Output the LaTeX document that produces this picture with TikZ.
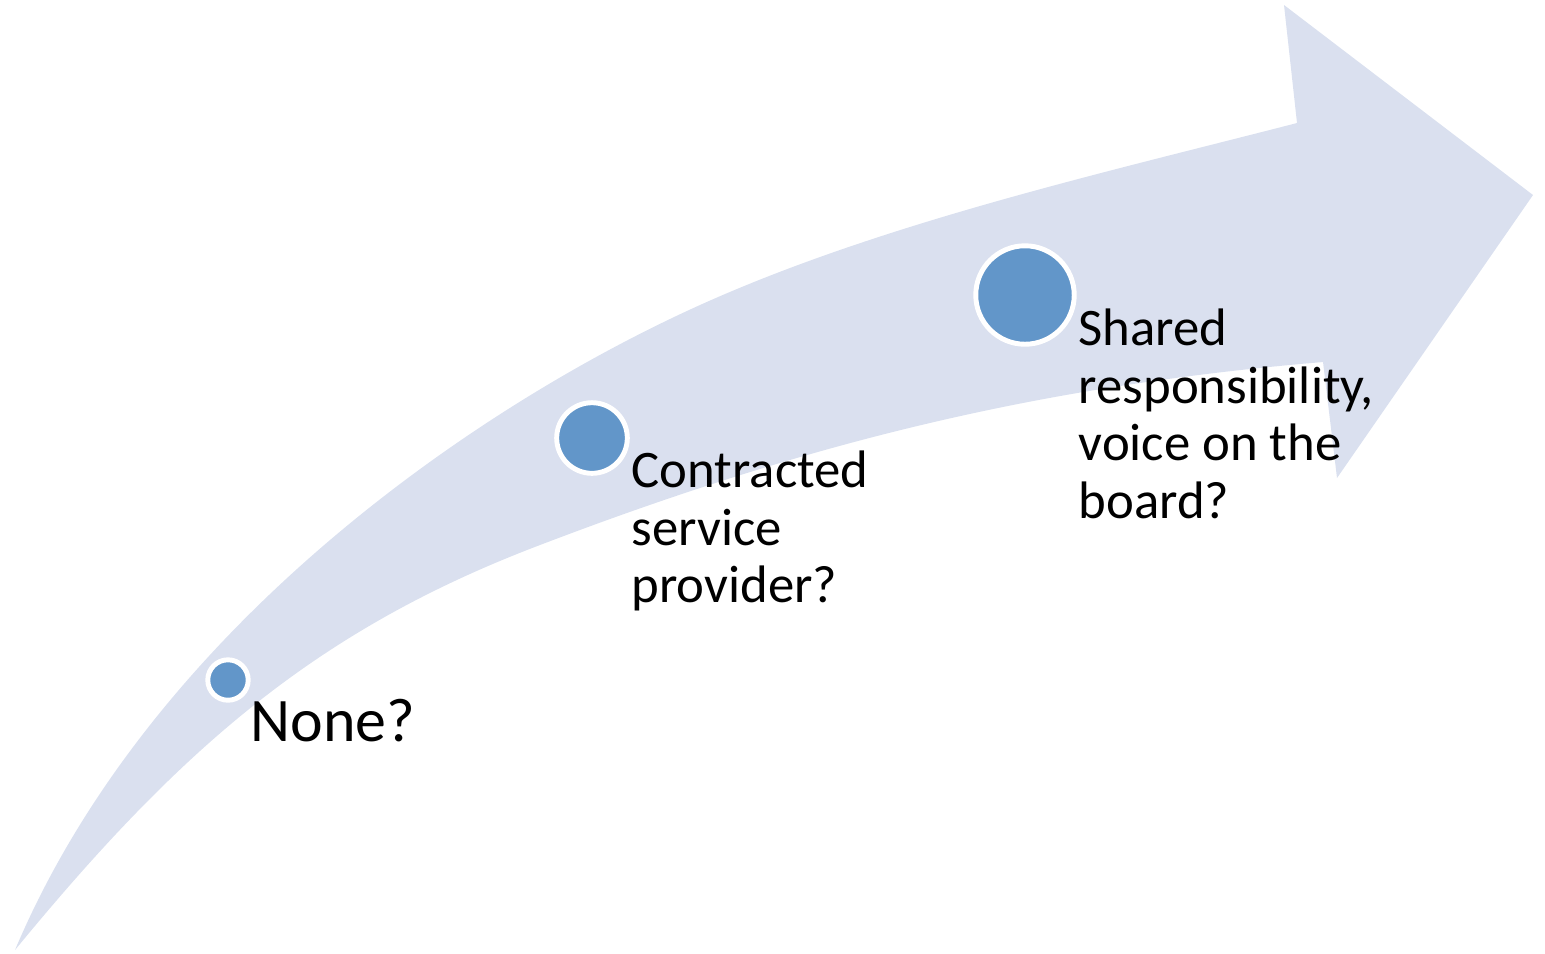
\documentclass[tikz,border=0pt]{standalone}
\usepackage{fontspec}
\setmainfont{Carlito}
\usepackage{tikz}
\usepackage{xcolor}
\definecolor{bandfill}{RGB}{218,224,239}
\definecolor{dotblue}{RGB}{98,150,201}

\begin{document}
\begin{tikzpicture}[x=0.01cm,y=-0.01cm]

\tikzstyle{dot}=[circle,fill=dotblue,draw=white,line width=1.4pt,inner sep=0pt]
\tikzstyle{lbl}=[anchor=north west,inner sep=0pt,align=left,font=\fontsize{15}{16.4}\selectfont]

\useasboundingbox (0,0) rectangle (1545,953);

\fill[bandfill] (15,950) .. controls (147,637) and (463,412) .. (700,305)
  .. controls (882,223) and (1103,173) .. (1297,123)
  -- (1284,5) -- (1533,195) -- (1337,478) -- (1323,362)
  .. controls (1050,385) and (820,438) .. (540,545)
  .. controls (316,630) and (180,749) .. (15,950) -- cycle;

\node[dot,minimum size=4.04mm] (none) at (228,680) {};
\node[dot,minimum size=7.06mm] (contr) at (592,438) {};
\node[dot,minimum size=9.84mm] (shared) at (1025,295) {};

\node[lbl,font=\fontsize{17.6}{21}\selectfont] (nonetxt) at (250,698) {None?};
\node[lbl] (contrtxt) at (631,450) {Contracted\\service\\provider?};
\node[lbl] (sharedtxt) at (1078,308) {Shared\\responsibility,\\voice on the\\board?};
\end{tikzpicture}
\end{document}
